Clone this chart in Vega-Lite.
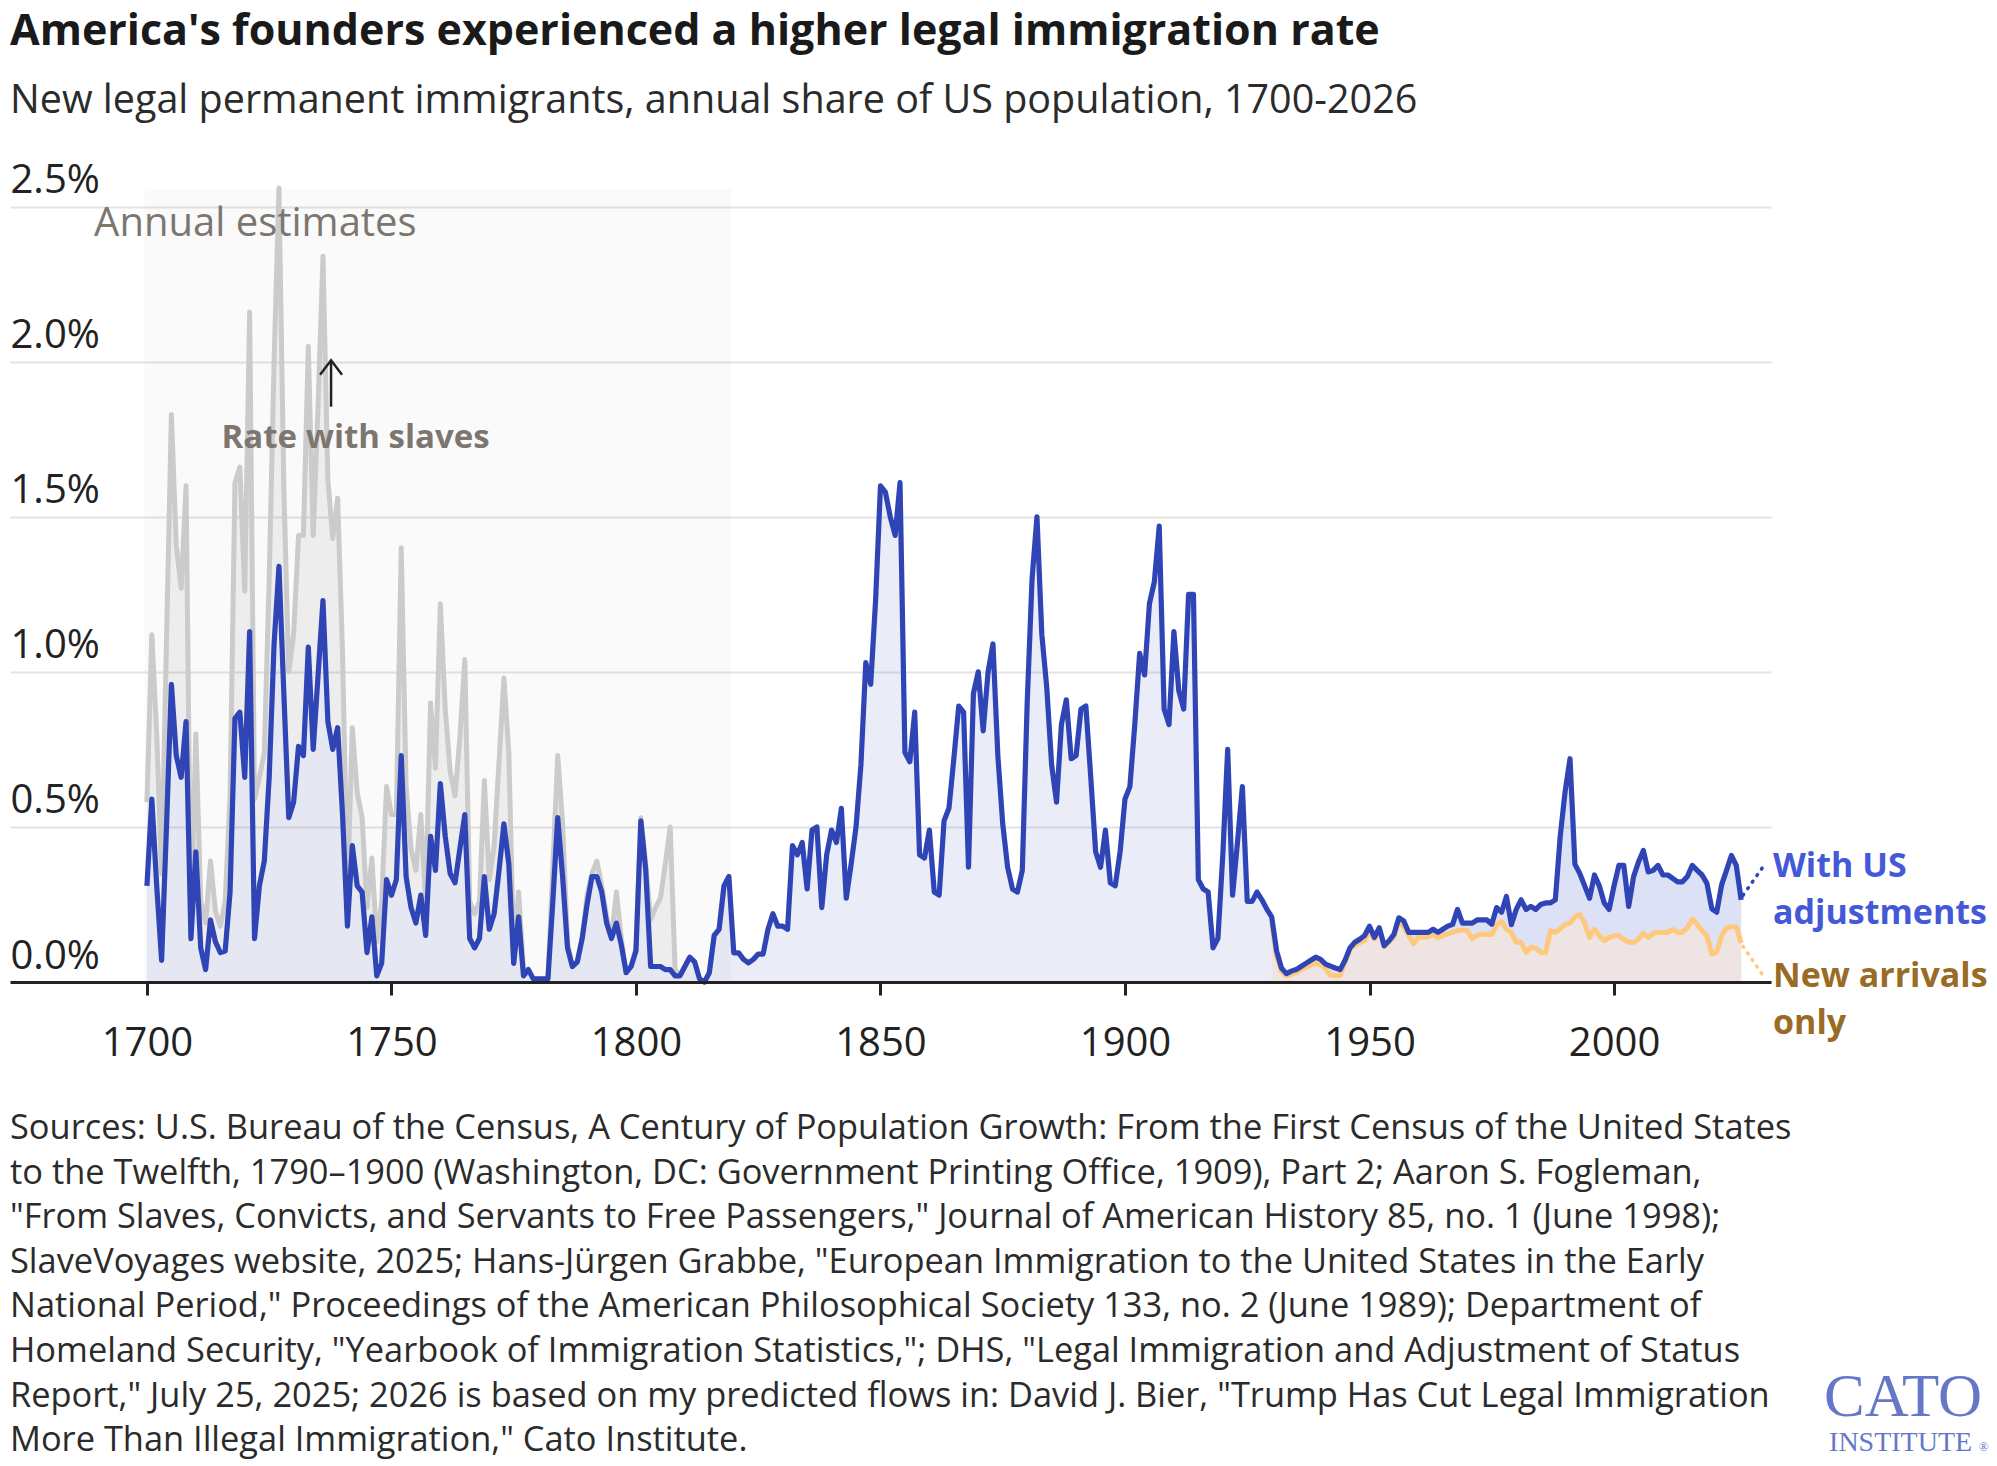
{
  "$schema": "https://vega.github.io/schema/vega-lite/v6.json",
  "autosize": {"type": "none"},
  "width": 1761,
  "height": 793,
  "padding": {"left": 10, "top": 189, "right": 226, "bottom": 484},
  "background": "#ffffff",
  "config": {"font": "Open Sans", "view": {"stroke": null}},
  "title": {
    "text": "America's founders experienced a higher legal immigration rate",
    "subtitle": "New legal permanent immigrants, annual share of US population, 1700-2026",
    "anchor": "start",
    "frame": "group",
    "font": "Open Sans",
    "fontSize": 43,
    "fontWeight": "bold",
    "color": "#1a1a1a",
    "subtitleFont": "Open Sans",
    "subtitleFontSize": 39.5,
    "subtitleColor": "#2b2b2b",
    "subtitlePadding": 28,
    "offset": 40
  },
  "datasets": {
    "main": [
      {"year":1700,"adj":0.31,"slaves":0.58},{"year":1701,"adj":0.59,"slaves":1.12},{"year":1702,"adj":0.31,"slaves":0.80},{"year":1703,"adj":0.07,"slaves":0.35},{"year":1704,"adj":0.50,"slaves":1.10},
      {"year":1705,"adj":0.96,"slaves":1.83},{"year":1706,"adj":0.73,"slaves":1.41},{"year":1707,"adj":0.66,"slaves":1.27},{"year":1708,"adj":0.84,"slaves":1.60},{"year":1709,"adj":0.14,"slaves":0.18},
      {"year":1710,"adj":0.42,"slaves":0.80},{"year":1711,"adj":0.11,"slaves":0.26},{"year":1712,"adj":0.04,"slaves":0.19},{"year":1713,"adj":0.20,"slaves":0.39},{"year":1714,"adj":0.13,"slaves":0.23},
      {"year":1715,"adj":0.095,"slaves":0.18},{"year":1716,"adj":0.10,"slaves":0.26},{"year":1717,"adj":0.29,"slaves":0.60},{"year":1718,"adj":0.85,"slaves":1.61},{"year":1719,"adj":0.87,"slaves":1.66},
      {"year":1720,"adj":0.66,"slaves":1.26},{"year":1721,"adj":1.13,"slaves":2.16},{"year":1722,"adj":0.14,"slaves":0.59},{"year":1723,"adj":0.31,"slaves":0.66},{"year":1724,"adj":0.39,"slaves":0.74},
      {"year":1725,"adj":0.66,"slaves":1.30},{"year":1726,"adj":1.09,"slaves":2.00},{"year":1727,"adj":1.34,"slaves":2.56},{"year":1728,"adj":0.93,"slaves":1.59},{"year":1729,"adj":0.53,"slaves":1.00},
      {"year":1730,"adj":0.58,"slaves":1.12},{"year":1731,"adj":0.76,"slaves":1.44},{"year":1732,"adj":0.73,"slaves":1.44},{"year":1733,"adj":1.08,"slaves":2.05},{"year":1734,"adj":0.75,"slaves":1.44},
      {"year":1735,"adj":0.99,"slaves":1.86},{"year":1736,"adj":1.23,"slaves":2.34},{"year":1737,"adj":0.84,"slaves":1.62},{"year":1738,"adj":0.75,"slaves":1.43},{"year":1739,"adj":0.82,"slaves":1.56},
      {"year":1740,"adj":0.54,"slaves":1.06},{"year":1741,"adj":0.18,"slaves":0.29},{"year":1742,"adj":0.44,"slaves":0.82},{"year":1743,"adj":0.31,"slaves":0.61},{"year":1744,"adj":0.29,"slaves":0.53},
      {"year":1745,"adj":0.095,"slaves":0.24},{"year":1746,"adj":0.21,"slaves":0.40},{"year":1747,"adj":0.02,"slaves":0.13},{"year":1748,"adj":0.06,"slaves":0.26},{"year":1749,"adj":0.33,"slaves":0.63},
      {"year":1750,"adj":0.28,"slaves":0.54},{"year":1751,"adj":0.33,"slaves":0.54},{"year":1752,"adj":0.73,"slaves":1.40},{"year":1753,"adj":0.34,"slaves":0.63},{"year":1754,"adj":0.24,"slaves":0.43},
      {"year":1755,"adj":0.19,"slaves":0.36},{"year":1756,"adj":0.28,"slaves":0.54},{"year":1757,"adj":0.15,"slaves":0.26},{"year":1758,"adj":0.47,"slaves":0.90},{"year":1759,"adj":0.36,"slaves":0.69},
      {"year":1760,"adj":0.64,"slaves":1.22},{"year":1761,"adj":0.47,"slaves":0.88},{"year":1762,"adj":0.35,"slaves":0.68},{"year":1763,"adj":0.32,"slaves":0.60},{"year":1764,"adj":0.43,"slaves":0.79},
      {"year":1765,"adj":0.54,"slaves":1.04},{"year":1766,"adj":0.14,"slaves":0.26},{"year":1767,"adj":0.11,"slaves":0.22},{"year":1768,"adj":0.14,"slaves":0.26},{"year":1769,"adj":0.34,"slaves":0.65},
      {"year":1770,"adj":0.17,"slaves":0.33},{"year":1771,"adj":0.22,"slaves":0.44},{"year":1772,"adj":0.36,"slaves":0.71},{"year":1773,"adj":0.51,"slaves":0.98},{"year":1774,"adj":0.38,"slaves":0.74},
      {"year":1775,"adj":0.06,"slaves":0.09},{"year":1776,"adj":0.21,"slaves":0.29},{"year":1777,"adj":0.02,"slaves":0.04},{"year":1778,"adj":0.04,"slaves":0.04},{"year":1779,"adj":0.01,"slaves":0.01},
      {"year":1780,"adj":0.01,"slaves":0.01},{"year":1781,"adj":0.01,"slaves":0.01},{"year":1782,"adj":0.01,"slaves":0.01},{"year":1783,"adj":0.26,"slaves":0.37},{"year":1784,"adj":0.53,"slaves":0.73},
      {"year":1785,"adj":0.34,"slaves":0.51},{"year":1786,"adj":0.11,"slaves":0.13},{"year":1787,"adj":0.05,"slaves":0.05},{"year":1788,"adj":0.065,"slaves":0.065},{"year":1789,"adj":0.14,"slaves":0.14},
      {"year":1790,"adj":0.25,"slaves":0.28},{"year":1791,"adj":0.34,"slaves":0.35},{"year":1792,"adj":0.34,"slaves":0.39},{"year":1793,"adj":0.29,"slaves":0.31},{"year":1794,"adj":0.19,"slaves":0.21},
      {"year":1795,"adj":0.14,"slaves":0.14},{"year":1796,"adj":0.19,"slaves":0.29},{"year":1797,"adj":0.12,"slaves":0.14},{"year":1798,"adj":0.03,"slaves":0.03},{"year":1799,"adj":0.05,"slaves":0.05},
      {"year":1800,"adj":0.10,"slaves":0.11},{"year":1801,"adj":0.52,"slaves":0.53},{"year":1802,"adj":0.36,"slaves":0.38},{"year":1803,"adj":0.05,"slaves":0.20},{"year":1804,"adj":0.05,"slaves":0.24},
      {"year":1805,"adj":0.05,"slaves":0.27},{"year":1806,"adj":0.04,"slaves":0.38},{"year":1807,"adj":0.04,"slaves":0.50},{"year":1808,"adj":0.02,"slaves":0.04},{"year":1809,"adj":0.02,"slaves":0.02},
      {"year":1810,"adj":0.05,"slaves":0.05},{"year":1811,"adj":0.08,"slaves":0.08},{"year":1812,"adj":0.065,"slaves":0.065},{"year":1813,"adj":0.01,"slaves":0.01},{"year":1814,"adj":0.0,"slaves":0.0},
      {"year":1815,"adj":0.03,"slaves":0.03},{"year":1816,"adj":0.15,"slaves":0.15},{"year":1817,"adj":0.17,"slaves":0.17},{"year":1818,"adj":0.31,"slaves":0.31},{"year":1819,"adj":0.34,"slaves":0.34},
      {"year":1820,"adj":0.094},{"year":1821,"adj":0.094},{"year":1822,"adj":0.073},{"year":1823,"adj":0.062},{"year":1824,"adj":0.073},
      {"year":1825,"adj":0.09},{"year":1826,"adj":0.09},{"year":1827,"adj":0.17},{"year":1828,"adj":0.22},{"year":1829,"adj":0.18},
      {"year":1830,"adj":0.18},{"year":1831,"adj":0.17},{"year":1832,"adj":0.44},{"year":1833,"adj":0.41},{"year":1834,"adj":0.45},
      {"year":1835,"adj":0.30},{"year":1836,"adj":0.49},{"year":1837,"adj":0.50},{"year":1838,"adj":0.24},{"year":1839,"adj":0.41},
      {"year":1840,"adj":0.49},{"year":1841,"adj":0.45},{"year":1842,"adj":0.56},{"year":1843,"adj":0.27},{"year":1844,"adj":0.38},
      {"year":1845,"adj":0.50},{"year":1846,"adj":0.70},{"year":1847,"adj":1.03},{"year":1848,"adj":0.96},{"year":1849,"adj":1.23},
      {"year":1850,"adj":1.60},{"year":1851,"adj":1.58},{"year":1852,"adj":1.50},{"year":1853,"adj":1.44},{"year":1854,"adj":1.61},
      {"year":1855,"adj":0.74},{"year":1856,"adj":0.71},{"year":1857,"adj":0.87},{"year":1858,"adj":0.41},{"year":1859,"adj":0.40},
      {"year":1860,"adj":0.49},{"year":1861,"adj":0.29},{"year":1862,"adj":0.28},{"year":1863,"adj":0.52},{"year":1864,"adj":0.56},
      {"year":1865,"adj":0.72},{"year":1866,"adj":0.89},{"year":1867,"adj":0.87},{"year":1868,"adj":0.37},{"year":1869,"adj":0.93},
      {"year":1870,"adj":1.00},{"year":1871,"adj":0.81},{"year":1872,"adj":1.00},{"year":1873,"adj":1.09},{"year":1874,"adj":0.73},
      {"year":1875,"adj":0.51},{"year":1876,"adj":0.37},{"year":1877,"adj":0.30},{"year":1878,"adj":0.29},{"year":1879,"adj":0.36},
      {"year":1880,"adj":0.90},{"year":1881,"adj":1.30},{"year":1882,"adj":1.50},{"year":1883,"adj":1.12},{"year":1884,"adj":0.95},
      {"year":1885,"adj":0.70},{"year":1886,"adj":0.58},{"year":1887,"adj":0.83},{"year":1888,"adj":0.91},{"year":1889,"adj":0.72},
      {"year":1890,"adj":0.73},{"year":1891,"adj":0.88},{"year":1892,"adj":0.89},{"year":1893,"adj":0.66},{"year":1894,"adj":0.42},
      {"year":1895,"adj":0.37},{"year":1896,"adj":0.49},{"year":1897,"adj":0.32},{"year":1898,"adj":0.31},{"year":1899,"adj":0.42},
      {"year":1900,"adj":0.59},{"year":1901,"adj":0.63},{"year":1902,"adj":0.83},{"year":1903,"adj":1.06},{"year":1904,"adj":0.99},
      {"year":1905,"adj":1.22},{"year":1906,"adj":1.29},{"year":1907,"adj":1.47},{"year":1908,"adj":0.88},{"year":1909,"adj":0.83},
      {"year":1910,"adj":1.13},{"year":1911,"adj":0.94},{"year":1912,"adj":0.88},{"year":1913,"adj":1.25},{"year":1914,"adj":1.25},
      {"year":1915,"adj":0.33},{"year":1916,"adj":0.30},{"year":1917,"adj":0.29},{"year":1918,"adj":0.11},{"year":1919,"adj":0.14},
      {"year":1920,"adj":0.41},{"year":1921,"adj":0.75},{"year":1922,"adj":0.28},{"year":1923,"adj":0.45},{"year":1924,"adj":0.63},
      {"year":1925,"adj":0.26},{"year":1926,"adj":0.26},{"year":1927,"adj":0.29},{"year":1928,"adj":0.265},{"year":1929,"adj":0.235},
      {"year":1930,"adj":0.21,"arrivals":0.19},{"year":1931,"adj":0.10,"arrivals":0.085},{"year":1932,"adj":0.045,"arrivals":0.035},{"year":1933,"adj":0.027,"arrivals":0.02},{"year":1934,"adj":0.035,"arrivals":0.025},
      {"year":1935,"adj":0.04,"arrivals":0.03},{"year":1936,"adj":0.05,"arrivals":0.04},{"year":1937,"adj":0.06,"arrivals":0.047},{"year":1938,"adj":0.07,"arrivals":0.055},{"year":1939,"adj":0.08,"arrivals":0.06},
      {"year":1940,"adj":0.073,"arrivals":0.055},{"year":1941,"adj":0.058,"arrivals":0.044},{"year":1942,"adj":0.051,"arrivals":0.022},{"year":1943,"adj":0.045,"arrivals":0.02},{"year":1944,"adj":0.04,"arrivals":0.022},
      {"year":1945,"adj":0.07,"arrivals":0.065},{"year":1946,"adj":0.11,"arrivals":0.105},{"year":1947,"adj":0.128,"arrivals":0.118},{"year":1948,"adj":0.138,"arrivals":0.127},{"year":1949,"adj":0.15,"arrivals":0.134},
      {"year":1950,"adj":0.18,"arrivals":0.166},{"year":1951,"adj":0.144,"arrivals":0.138},{"year":1952,"adj":0.175,"arrivals":0.17},{"year":1953,"adj":0.117,"arrivals":0.113},{"year":1954,"adj":0.133,"arrivals":0.13},
      {"year":1955,"adj":0.154,"arrivals":0.145},{"year":1956,"adj":0.207,"arrivals":0.20},{"year":1957,"adj":0.197,"arrivals":0.177},{"year":1958,"adj":0.16,"arrivals":0.15},{"year":1959,"adj":0.16,"arrivals":0.124},
      {"year":1960,"adj":0.16,"arrivals":0.145},{"year":1961,"adj":0.16,"arrivals":0.145},{"year":1962,"adj":0.16,"arrivals":0.145},{"year":1963,"adj":0.17,"arrivals":0.155},{"year":1964,"adj":0.16,"arrivals":0.143},
      {"year":1965,"adj":0.17,"arrivals":0.15},{"year":1966,"adj":0.18,"arrivals":0.155},{"year":1967,"adj":0.186,"arrivals":0.161},{"year":1968,"adj":0.234,"arrivals":0.165},{"year":1969,"adj":0.19,"arrivals":0.168},
      {"year":1970,"adj":0.19,"arrivals":0.166},{"year":1971,"adj":0.19,"arrivals":0.14},{"year":1972,"adj":0.20,"arrivals":0.15},{"year":1973,"adj":0.20,"arrivals":0.155},{"year":1974,"adj":0.20,"arrivals":0.153},
      {"year":1975,"adj":0.186,"arrivals":0.153},{"year":1976,"adj":0.24,"arrivals":0.185},{"year":1977,"adj":0.225,"arrivals":0.195},{"year":1978,"adj":0.276,"arrivals":0.17},{"year":1979,"adj":0.185,"arrivals":0.16},
      {"year":1980,"adj":0.234,"arrivals":0.128},{"year":1981,"adj":0.265,"arrivals":0.128},{"year":1982,"adj":0.234,"arrivals":0.096},{"year":1983,"adj":0.244,"arrivals":0.112},{"year":1984,"adj":0.234,"arrivals":0.109},
      {"year":1985,"adj":0.25,"arrivals":0.096},{"year":1986,"adj":0.255,"arrivals":0.094},{"year":1987,"adj":0.255,"arrivals":0.165},{"year":1988,"adj":0.265,"arrivals":0.16},{"year":1989,"adj":0.47,"arrivals":0.172},
      {"year":1990,"adj":0.614,"arrivals":0.186},{"year":1991,"adj":0.72,"arrivals":0.19},{"year":1992,"adj":0.38,"arrivals":0.21},{"year":1993,"adj":0.35,"arrivals":0.218},{"year":1994,"adj":0.31,"arrivals":0.19},
      {"year":1995,"adj":0.27,"arrivals":0.144},{"year":1996,"adj":0.345,"arrivals":0.17},{"year":1997,"adj":0.31,"arrivals":0.149},{"year":1998,"adj":0.255,"arrivals":0.133},{"year":1999,"adj":0.234,"arrivals":0.144},
      {"year":2000,"adj":0.31,"arrivals":0.149},{"year":2001,"adj":0.376,"arrivals":0.149},{"year":2002,"adj":0.376,"arrivals":0.138},{"year":2003,"adj":0.244,"arrivals":0.128},{"year":2004,"adj":0.34,"arrivals":0.128},
      {"year":2005,"adj":0.387,"arrivals":0.138},{"year":2006,"adj":0.424,"arrivals":0.157},{"year":2007,"adj":0.355,"arrivals":0.144},{"year":2008,"adj":0.36,"arrivals":0.157},{"year":2009,"adj":0.376,"arrivals":0.16},
      {"year":2010,"adj":0.345,"arrivals":0.16},{"year":2011,"adj":0.345,"arrivals":0.16},{"year":2012,"adj":0.334,"arrivals":0.17},{"year":2013,"adj":0.323,"arrivals":0.16},{"year":2014,"adj":0.323,"arrivals":0.16},
      {"year":2015,"adj":0.34,"arrivals":0.175},{"year":2016,"adj":0.376,"arrivals":0.202},{"year":2017,"adj":0.36,"arrivals":0.186},{"year":2018,"adj":0.345,"arrivals":0.165},{"year":2019,"adj":0.318,"arrivals":0.149},
      {"year":2020,"adj":0.236,"arrivals":0.091},{"year":2021,"adj":0.225,"arrivals":0.096},{"year":2022,"adj":0.313,"arrivals":0.149},{"year":2023,"adj":0.36,"arrivals":0.175},{"year":2024,"adj":0.408,"arrivals":0.178},
      {"year":2025,"adj":0.376,"arrivals":0.178},{"year":2026,"adj":0.265,"arrivals":0.126}
    ],
    "leaders": [
      {"series":"With US adjustments","year":2026.4,"value":0.28},
      {"series":"With US adjustments","year":2030.4,"value":0.37},
      {"series":"New arrivals only","year":2026.4,"value":0.115},
      {"series":"New arrivals only","year":2030.4,"value":0.022}
    ]
  },
  "layer": [
    {
      "data": {"values": [{"label": "Annual estimates"}]},
      "mark": {"type": "rect", "fill": "#000000", "fillOpacity": 0.02},
      "encoding": {
        "x": {
          "datum": 1699.5,
          "type": "quantitative",
          "scale": {"domain": [1672, 2032.1], "nice": false, "zero": false},
          "axis": {
            "title": null,
            "values": [1700, 1750, 1800, 1850, 1900, 1950, 2000],
            "format": "d",
            "domain": true,
            "domainColor": "#222222",
            "domainWidth": 3,
            "ticks": true,
            "tickColor": "#222222",
            "tickWidth": 3,
            "tickSize": 13,
            "labelFont": "Open Sans",
            "labelFontSize": 40,
            "labelColor": "#222222",
            "labelPadding": 28,
            "labelFlush": false,
            "grid": false,
            "zindex": 1
          }
        },
        "x2": {"datum": 1819.5},
        "y": {
          "datum": 0,
          "type": "quantitative",
          "scale": {"domain": [0, 2.557], "nice": false, "zero": false},
          "axis": {
            "title": null,
            "values": [0, 0.5, 1, 1.5, 2, 2.5],
            "labelExpr": "format(datum.value, '.1f') + '%'",
            "domain": false,
            "ticks": false,
            "tickSize": 0,
            "labelAlign": "left",
            "labelBaseline": "alphabetic",
            "labelPadding": 0,
            "labelOffset": -14,
            "labelFont": "Open Sans",
            "labelFontSize": 40,
            "labelColor": "#222222",
            "labelFlush": false,
            "labelOverlap": false,
            "grid": true,
            "gridColor": "#e4e4e4",
            "gridWidth": 2
          }
        },
        "y2": {"datum": 2.557}
      }
    },
    {
      "data": {"name": "main"},
      "transform": [{"filter": "isValid(datum.slaves)"}],
      "mark": {"type": "area", "fill": "#000000", "fillOpacity": 0.05},
      "encoding": {"x": {"field": "year", "type": "quantitative"}, "y": {"field": "adj", "type": "quantitative"}, "y2": {"field": "slaves"}}
    },
    {
      "data": {"name": "main"},
      "mark": {"type": "area", "fill": "#3046b8", "fillOpacity": 0.1},
      "encoding": {"x": {"field": "year", "type": "quantitative"}, "y": {"field": "adj", "type": "quantitative"}, "y2": {"datum": 0}}
    },
    {
      "data": {"name": "main"},
      "transform": [{"filter": "isValid(datum.arrivals)"}],
      "mark": {"type": "area", "fill": "#4a60e0", "fillOpacity": 0.08},
      "encoding": {"x": {"field": "year", "type": "quantitative"}, "y": {"field": "arrivals", "type": "quantitative"}, "y2": {"field": "adj"}}
    },
    {
      "data": {"name": "main"},
      "transform": [{"filter": "isValid(datum.arrivals)"}],
      "mark": {"type": "area", "fill": "#f0dbce", "fillOpacity": 0.5},
      "encoding": {"x": {"field": "year", "type": "quantitative"}, "y": {"field": "arrivals", "type": "quantitative"}, "y2": {"datum": 0}}
    },
    {
      "data": {"name": "main"},
      "transform": [{"filter": "isValid(datum.slaves)"}],
      "mark": {"type": "line", "stroke": "#cbcbcb", "strokeWidth": 5, "strokeJoin": "round"},
      "encoding": {"x": {"field": "year", "type": "quantitative"}, "y": {"field": "slaves", "type": "quantitative"}}
    },
    {
      "data": {"name": "main"},
      "transform": [{"filter": "isValid(datum.arrivals)"}],
      "mark": {"type": "line", "stroke": "#ffc97d", "strokeWidth": 5, "strokeJoin": "round"},
      "encoding": {"x": {"field": "year", "type": "quantitative"}, "y": {"field": "arrivals", "type": "quantitative"}}
    },
    {
      "data": {"name": "main"},
      "mark": {"type": "line", "stroke": "#2f45b6", "strokeWidth": 5.2, "strokeJoin": "round"},
      "encoding": {"x": {"field": "year", "type": "quantitative"}, "y": {"field": "adj", "type": "quantitative"}}
    },
    {
      "data": {"name": "leaders"},
      "mark": {"type": "line", "strokeWidth": 3.5, "strokeDash": [1, 7], "strokeCap": "round"},
      "encoding": {
        "x": {"field": "year", "type": "quantitative"},
        "y": {"field": "value", "type": "quantitative"},
        "color": {"field": "series", "type": "nominal", "scale": {"domain": ["With US adjustments", "New arrivals only"], "range": ["#2f45b6", "#ffc97d"]}, "legend": null}
      }
    },
    {
      "data": {"values": [{"t": "With US\nadjustments"}]},
      "mark": {"type": "text", "align": "left", "baseline": "alphabetic", "font": "Open Sans", "fontSize": 34, "fontWeight": "bold", "color": "#4459d8", "lineBreak": "\n", "lineHeight": 47, "dx": 2},
      "encoding": {"x": {"datum": 2032.1, "type": "quantitative"}, "y": {"datum": 0.337, "type": "quantitative"}, "text": {"field": "t", "type": "nominal"}}
    },
    {
      "data": {"values": [{"t": "New arrivals\nonly"}]},
      "mark": {"type": "text", "align": "left", "baseline": "alphabetic", "font": "Open Sans", "fontSize": 34, "fontWeight": "bold", "color": "#9a6b24", "lineBreak": "\n", "lineHeight": 47, "dx": 2},
      "encoding": {"x": {"datum": 2032.1, "type": "quantitative"}, "y": {"datum": -0.0155, "type": "quantitative"}, "text": {"field": "t", "type": "nominal"}}
    },
    {
      "data": {"values": [{"t": "Annual estimates"}]},
      "mark": {"type": "text", "align": "left", "baseline": "alphabetic", "font": "Open Sans", "fontSize": 40, "color": "#7d766f"},
      "encoding": {"x": {"datum": 1689.2, "type": "quantitative"}, "y": {"datum": 2.4056, "type": "quantitative"}, "text": {"field": "t", "type": "nominal"}}
    },
    {
      "data": {"values": [{"t": "Rate with slaves"}]},
      "mark": {"type": "text", "align": "left", "baseline": "alphabetic", "font": "Open Sans", "fontSize": 33, "fontWeight": "bold", "color": "#7d766f"},
      "encoding": {"x": {"datum": 1715.26, "type": "quantitative"}, "y": {"datum": 1.7224, "type": "quantitative"}, "text": {"field": "t", "type": "nominal"}}
    },
    {
      "data": {"values": [{"t": "arrow"}]},
      "mark": {"type": "rule", "stroke": "#222222", "strokeWidth": 2.5},
      "encoding": {"x": {"datum": 1737.65, "type": "quantitative"}, "y": {"datum": 1.855, "type": "quantitative"}, "y2": {"datum": 2.0}}
    },
    {
      "data": {"values": [{"t": "arrowhead"}]},
      "mark": {"type": "point", "shape": "M-1,1.3L0,0L1,1.3", "size": 484, "filled": false, "stroke": "#222222", "strokeWidth": 2.5, "opacity": 1},
      "encoding": {"x": {"datum": 1737.65, "type": "quantitative"}, "y": {"datum": 2.0045, "type": "quantitative"}}
    },
    {
      "data": {"values": [{"t": "Sources: U.S. Bureau of the Census, A Century of Population Growth: From the First Census of the United States\nto the Twelfth, 1790–1900 (Washington, DC: Government Printing Office, 1909), Part 2; Aaron S. Fogleman,\n\"From Slaves, Convicts, and Servants to Free Passengers,\" Journal of American History 85, no. 1 (June 1998);\nSlaveVoyages website, 2025; Hans-Jürgen Grabbe, \"European Immigration to the United States in the Early\nNational Period,\" Proceedings of the American Philosophical Society 133, no. 2 (June 1989); Department of\nHomeland Security, \"Yearbook of Immigration Statistics,\"; DHS, \"Legal Immigration and Adjustment of Status\nReport,\" July 25, 2025; 2026 is based on my predicted flows in: David J. Bier, \"Trump Has Cut Legal Immigration\nMore Than Illegal Immigration,\" Cato Institute."}]},
      "mark": {"type": "text", "align": "left", "baseline": "alphabetic", "font": "Open Sans", "fontSize": 34.4, "color": "#2b2b2b", "lineBreak": "\n", "lineHeight": 44.6},
      "encoding": {"x": {"datum": 1672, "type": "quantitative"}, "y": {"datum": -0.506, "type": "quantitative"}, "text": {"field": "t", "type": "nominal"}}
    },
    {
      "data": {"values": [{"t": "CATO"}]},
      "mark": {"type": "text", "align": "center", "baseline": "alphabetic", "font": "Liberation Serif", "fontSize": 61, "color": "#6577c9"},
      "encoding": {"x": {"datum": 2059.1, "type": "quantitative"}, "y": {"datum": -1.3995, "type": "quantitative"}, "text": {"field": "t", "type": "nominal"}}
    },
    {
      "data": {"values": [{"t": "INSTITUTE"}]},
      "mark": {"type": "text", "align": "center", "baseline": "alphabetic", "font": "Liberation Serif", "fontSize": 28, "color": "#6577c9"},
      "encoding": {"x": {"datum": 2058.6, "type": "quantitative"}, "y": {"datum": -1.5124, "type": "quantitative"}, "text": {"field": "t", "type": "nominal"}}
    },
    {
      "data": {"values": [{"t": "®"}]},
      "mark": {"type": "text", "align": "left", "baseline": "alphabetic", "font": "Liberation Serif", "fontSize": 13, "color": "#6577c9"},
      "encoding": {"x": {"datum": 2074.6, "type": "quantitative"}, "y": {"datum": -1.5124, "type": "quantitative"}, "text": {"field": "t", "type": "nominal"}}
    }
  ]
}
